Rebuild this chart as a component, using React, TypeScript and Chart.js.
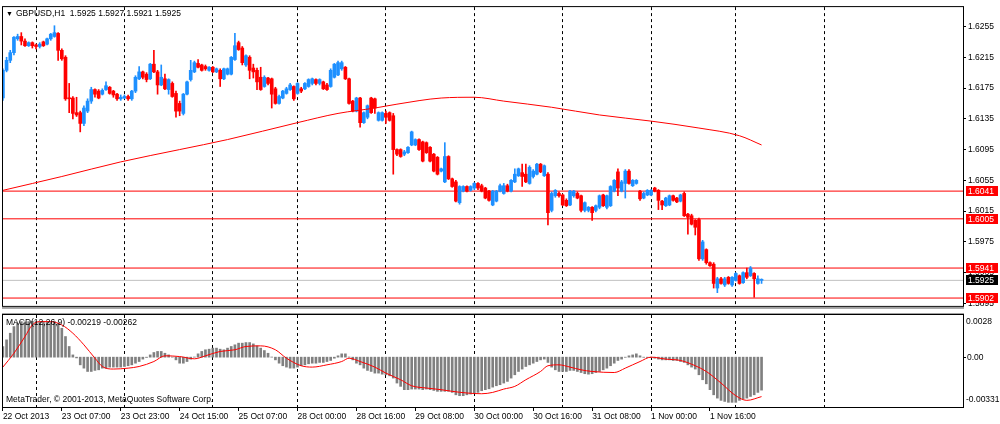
import { useEffect, useRef } from "react";
import { Chart, registerables } from "chart.js";
Chart.register(...registerables);

const FONT = "'Liberation Sans', Arial, sans-serif";
const SYMBOL = "GBPUSD,H1";
const MACD_NAME = "MACD(12,26,9)";
const COPYRIGHT = "MetaTrader, \u00A9 2001-2013, MetaQuotes Software Corp.";

const OPEN = [
  1.6162, 1.6198, 1.6211, 1.6221, 1.6239, 1.6242, 1.6236, 1.623, 1.6234, 1.6231,
  1.6229, 1.6235, 1.6232, 1.6239, 1.6242, 1.6246, 1.6224, 1.6215, 1.6162, 1.6162,
  1.6143, 1.6143, 1.6129, 1.6145, 1.6158, 1.6173, 1.6171, 1.6167, 1.6173, 1.6176,
  1.6171, 1.6167, 1.6161, 1.6162, 1.6164, 1.6161, 1.6171, 1.6187, 1.6196, 1.6193,
  1.6187, 1.6206, 1.6196, 1.6179, 1.6187, 1.6173, 1.6181, 1.6168, 1.6155, 1.6142,
  1.6167, 1.6186, 1.6196, 1.6207, 1.6205, 1.6203, 1.6198, 1.6202, 1.6196, 1.6198,
  1.6187, 1.6193, 1.6193, 1.6212, 1.6234, 1.6227, 1.6205, 1.6215, 1.6201, 1.6198,
  1.6189, 1.6177, 1.6188, 1.6187, 1.6174, 1.6155, 1.6162, 1.6168, 1.6173, 1.6177,
  1.6168, 1.6174, 1.6174, 1.6177, 1.6181, 1.6186, 1.6181, 1.6183, 1.6179, 1.6177,
  1.6189, 1.6192, 1.62, 1.6202, 1.6187, 1.6158, 1.6145, 1.6162, 1.613, 1.6137,
  1.6162, 1.6161, 1.6133, 1.6133, 1.6142, 1.6143, 1.6139, 1.6095, 1.6095, 1.6089,
  1.6091, 1.6101, 1.6101, 1.6108, 1.6105, 1.6104, 1.6098, 1.6089, 1.6085, 1.6067,
  1.6053, 1.6086, 1.6057, 1.6053, 1.6026, 1.6041, 1.6047, 1.6042, 1.6045, 1.6051,
  1.6048, 1.6045, 1.6041, 1.6023, 1.6028, 1.6041, 1.6038, 1.6048, 1.6041, 1.6053,
  1.6061, 1.6065, 1.6063, 1.6051, 1.606, 1.6063, 1.6076, 1.6061, 1.6063, 1.6016,
  1.6035, 1.6038, 1.6036, 1.6029, 1.6023, 1.6035, 1.6038, 1.6035, 1.6016, 1.6016,
  1.602, 1.6016, 1.602, 1.6036, 1.602, 1.6022, 1.6041, 1.6066, 1.6041, 1.6051,
  1.6067, 1.6048, 1.6051, 1.6041, 1.6032, 1.6036, 1.6036, 1.6045, 1.6042, 1.6028,
  1.6022, 1.6023, 1.6035, 1.6032, 1.6028, 1.6038, 1.6011, 1.6009, 1.6003, 1.6004,
  1.5953, 1.5965, 1.5948, 1.5946, 1.5915, 1.5927, 1.5919, 1.5929, 1.5919, 1.5925,
  1.5931, 1.5922, 1.5935, 1.5931, 1.5934, 1.5921, 1.5925,
];
const HIGH = [
  1.62, 1.6215, 1.6224, 1.6242, 1.6245, 1.6247, 1.6239, 1.6235, 1.6235, 1.6232,
  1.6234, 1.6236, 1.624, 1.6246, 1.6256, 1.6247, 1.6226, 1.6217, 1.6181, 1.6164,
  1.6163, 1.6145, 1.6152, 1.6161, 1.6176, 1.6174, 1.6173, 1.6174, 1.6183, 1.6177,
  1.6172, 1.6168, 1.6166, 1.6166, 1.6166, 1.6172, 1.6191, 1.6203, 1.6197, 1.6195,
  1.6207, 1.6224, 1.6198, 1.6205, 1.6193, 1.6187, 1.6183, 1.6171, 1.6158, 1.6168,
  1.6184, 1.6211, 1.621, 1.6212, 1.6206, 1.6205, 1.6203, 1.6203, 1.6201, 1.62,
  1.6201, 1.6201, 1.6216, 1.6246, 1.6236, 1.6229, 1.6218, 1.6217, 1.6206, 1.6201,
  1.6202, 1.6191, 1.6189, 1.6188, 1.6176, 1.6166, 1.6172, 1.6176, 1.6181, 1.6178,
  1.6182, 1.6176, 1.6182, 1.6187, 1.6188, 1.6187, 1.6187, 1.6184, 1.6181, 1.62,
  1.6207, 1.621, 1.621, 1.6203, 1.6188, 1.6159, 1.6163, 1.6163, 1.6144, 1.6153,
  1.6163, 1.6162, 1.6144, 1.6144, 1.6145, 1.6144, 1.6142, 1.6096, 1.6096, 1.6094,
  1.6099, 1.6119, 1.6109, 1.6109, 1.6106, 1.6105, 1.6099, 1.609, 1.6086, 1.6071,
  1.6104, 1.6087, 1.6058, 1.6055, 1.6048, 1.6048, 1.6048, 1.6048, 1.6052, 1.6052,
  1.605, 1.6046, 1.6042, 1.6042, 1.6042, 1.605, 1.6051, 1.605, 1.6056, 1.607,
  1.6071, 1.6076, 1.6076, 1.6074, 1.6069, 1.6077, 1.6077, 1.6075, 1.6065, 1.604,
  1.6043, 1.604, 1.6037, 1.6031, 1.6042, 1.6042, 1.604, 1.6036, 1.6027, 1.6021,
  1.6021, 1.6023, 1.6036, 1.6037, 1.6036, 1.6048, 1.6056, 1.607, 1.6055, 1.6069,
  1.6069, 1.6056, 1.6056, 1.6042, 1.604, 1.6043, 1.6043, 1.6046, 1.6043, 1.6029,
  1.6033, 1.6036, 1.6036, 1.6033, 1.6037, 1.604, 1.6012, 1.6011, 1.6004, 1.6006,
  1.5977, 1.5966, 1.5949, 1.5948, 1.5929, 1.5929, 1.5929, 1.593, 1.593, 1.5935,
  1.5932, 1.5936, 1.5941, 1.5943, 1.5935, 1.5931, 1.5927,
];
const LOW = [
  1.6159, 1.6196, 1.6208, 1.6218, 1.6237, 1.6231, 1.6229, 1.6229, 1.6227, 1.6226,
  1.6227, 1.6229, 1.6231, 1.6237, 1.6241, 1.6211, 1.6211, 1.6159, 1.6143, 1.6135,
  1.6138, 1.6118, 1.6126, 1.6143, 1.6155, 1.6163, 1.6161, 1.6166, 1.6172, 1.6167,
  1.6163, 1.6159, 1.6159, 1.6161, 1.6159, 1.6159, 1.6169, 1.6186, 1.6187, 1.6183,
  1.6186, 1.6195, 1.6167, 1.6178, 1.6173, 1.6167, 1.6163, 1.6137, 1.6139, 1.614,
  1.6166, 1.6184, 1.6195, 1.6201, 1.6197, 1.6198, 1.6197, 1.6195, 1.6195, 1.6177,
  1.6186, 1.6192, 1.6192, 1.6211, 1.6224, 1.6205, 1.6203, 1.6187, 1.6188, 1.6173,
  1.6172, 1.6176, 1.6179, 1.6149, 1.6154, 1.6154, 1.6161, 1.6167, 1.6172, 1.6159,
  1.6167, 1.6169, 1.6173, 1.6176, 1.6179, 1.6179, 1.6179, 1.6173, 1.6172, 1.6176,
  1.6188, 1.6191, 1.6198, 1.6186, 1.6154, 1.6144, 1.6144, 1.6124, 1.6129, 1.6135,
  1.6142, 1.6142, 1.6132, 1.6132, 1.6129, 1.6132, 1.6063, 1.6087, 1.6085, 1.6087,
  1.609, 1.61, 1.61, 1.6094, 1.6079, 1.609, 1.6079, 1.6066, 1.6062, 1.6066,
  1.6052, 1.6056, 1.6046, 1.6027, 1.6024, 1.604, 1.604, 1.6041, 1.6043, 1.6043,
  1.604, 1.6031, 1.6028, 1.6022, 1.6027, 1.604, 1.6037, 1.604, 1.604, 1.6052,
  1.606, 1.6047, 1.6052, 1.605, 1.6058, 1.6062, 1.6065, 1.606, 1.5997, 1.6014,
  1.6033, 1.6033, 1.6022, 1.6021, 1.6022, 1.6033, 1.6031, 1.6014, 1.6014, 1.6014,
  1.6003, 1.6014, 1.6018, 1.6021, 1.6018, 1.6021, 1.604, 1.6035, 1.604, 1.6032,
  1.605, 1.6047, 1.605, 1.6029, 1.6031, 1.6035, 1.6035, 1.604, 1.6017, 1.6017,
  1.6021, 1.6022, 1.6028, 1.6026, 1.6027, 1.6008, 1.5985, 1.5997, 1.5984, 1.5951,
  1.5951, 1.5946, 1.5943, 1.5915, 1.5909, 1.592, 1.5917, 1.592, 1.5917, 1.5924,
  1.592, 1.5921, 1.5927, 1.593, 1.5903, 1.592, 1.5921,
];
const CLOSE = [
  1.6198, 1.6211, 1.6221, 1.6241, 1.6242, 1.6236, 1.623, 1.6234, 1.623, 1.6229,
  1.6232, 1.623, 1.6239, 1.6245, 1.6247, 1.6224, 1.6213, 1.6161, 1.6161, 1.6142,
  1.614, 1.6129, 1.6149, 1.6158, 1.6173, 1.6167, 1.6162, 1.6172, 1.6178, 1.6168,
  1.6166, 1.6161, 1.6163, 1.6164, 1.6161, 1.6171, 1.6189, 1.6196, 1.6189, 1.6186,
  1.6206, 1.6196, 1.6179, 1.6189, 1.6174, 1.6186, 1.6164, 1.6145, 1.6145, 1.6167,
  1.6183, 1.6198, 1.6208, 1.6202, 1.6198, 1.62, 1.6202, 1.6196, 1.62, 1.6187,
  1.62, 1.62, 1.6215, 1.623, 1.6225, 1.6208, 1.6217, 1.6198, 1.6196, 1.6183,
  1.6173, 1.6189, 1.6181, 1.6167, 1.6155, 1.6164, 1.6171, 1.6174, 1.6179, 1.6161,
  1.6181, 1.6171, 1.6181, 1.6186, 1.6187, 1.6181, 1.6186, 1.6174, 1.6173, 1.6198,
  1.6206, 1.6208, 1.6208, 1.6187, 1.6155, 1.6145, 1.6162, 1.613, 1.6143, 1.6152,
  1.6143, 1.6149, 1.6143, 1.6143, 1.6137, 1.6133, 1.6095, 1.6089, 1.6086, 1.6092,
  1.6098, 1.6118, 1.6108, 1.6095, 1.608, 1.6091, 1.608, 1.6067, 1.6063, 1.607,
  1.6086, 1.6057, 1.6047, 1.6028, 1.6047, 1.6047, 1.6041, 1.6047, 1.6051, 1.6045,
  1.6041, 1.6032, 1.6029, 1.6041, 1.6041, 1.6048, 1.6048, 1.6041, 1.6055, 1.6063,
  1.607, 1.606, 1.6053, 1.6072, 1.6067, 1.6076, 1.6066, 1.6074, 1.6013, 1.6038,
  1.6042, 1.6035, 1.6023, 1.6022, 1.6041, 1.6041, 1.6032, 1.6016, 1.6026, 1.602,
  1.6013, 1.6022, 1.6035, 1.6022, 1.6035, 1.6047, 1.6055, 1.6045, 1.6053, 1.6067,
  1.6051, 1.6055, 1.6055, 1.6031, 1.6038, 1.6042, 1.6042, 1.6041, 1.6029, 1.6023,
  1.6032, 1.6035, 1.6029, 1.6027, 1.6036, 1.6009, 1.6007, 1.5998, 1.5994, 1.5953,
  1.5975, 1.5948, 1.5944, 1.5921, 1.5927, 1.5921, 1.5927, 1.5921, 1.5929, 1.5934,
  1.5921, 1.5935, 1.5929, 1.5941, 1.5927, 1.5927, 1.5925,
];

const MA_IDX = [0, 16, 32, 48, 61, 80, 91, 101, 107, 119, 128, 136, 149, 162, 176, 189, 200, 206];
const MA_VAL = [1.6042, 1.606, 1.6079, 1.6095, 1.6108, 1.613, 1.6142, 1.6149, 1.6154, 1.6162, 1.6163, 1.6158, 1.615, 1.614, 1.6132, 1.6123, 1.6113, 1.6101];

const LEVELS = [1.6041, 1.6005, 1.5941, 1.5902];
const BID = 1.5925;
const PRICE_TICKS = [1.6255, 1.6215, 1.6175, 1.6135, 1.6095, 1.6055, 1.6015, 1.5975, 1.5935, 1.5895];

const MACD_MAIN = [
  0.00071, 0.00115, 0.00159, 0.00203, 0.00225, 0.00236, 0.00234, 0.00236, 0.00238, 0.00236,
  0.00235, 0.00236, 0.00234, 0.0023, 0.00236, 0.00225, 0.00192, 0.00137, 0.00071, 0.00015,
  -0.00005, -0.00051, -0.00073, -0.00095, -0.00095, -0.00088, -0.00084, -0.00073, -0.00073, -0.00066,
  -0.00066, -0.00066, -0.00066, -0.00062, -0.00057, -0.00051, -0.0004, -0.00029, -0.00013, -0.00002,
  0.00015, 0.00031, 0.00038, 0.00038, 0.00026, 0.00015, 0.00001, -0.00018, -0.0004, -0.0004,
  -0.00029, -0.00013, 0.00001, 0.00022, 0.00038, 0.00049, 0.00053, 0.0006, 0.0006, 0.00053,
  0.00049, 0.0006, 0.00071, 0.00082, 0.00093, 0.00093, 0.00097, 0.00097, 0.00088, 0.00075,
  0.0006, 0.00044, 0.00026, 0.00001, -0.00018, -0.0004, -0.00057, -0.00066, -0.00073, -0.00073,
  -0.00066, -0.00057, -0.00051, -0.00044, -0.0004, -0.0004, -0.00035, -0.00035, -0.00029, -0.00022,
  -0.00007, 0.00009, 0.00022, 0.00022, 0.00001, -0.00018, -0.0004, -0.00051, -0.00073, -0.00088,
  -0.00095, -0.00106, -0.00106, -0.00113, -0.00117, -0.00124, -0.00139, -0.00172, -0.00194, -0.00216,
  -0.00216, -0.00212, -0.00212, -0.00212, -0.00216, -0.00212, -0.00216, -0.00221, -0.00227, -0.00227,
  -0.00227, -0.00227, -0.00234, -0.0025, -0.00256, -0.00256, -0.0025, -0.00245, -0.00238, -0.00234,
  -0.00223, -0.00216, -0.0021, -0.00199, -0.0019, -0.00183, -0.00172, -0.00161, -0.00139, -0.00117,
  -0.00095, -0.00079, -0.00062, -0.00051, -0.0004, -0.00029, -0.00018, -0.00013, -0.00035, -0.00066,
  -0.00084, -0.00095, -0.00095, -0.00095, -0.00088, -0.00088, -0.00095, -0.00102, -0.0011, -0.00113,
  -0.0011, -0.00102, -0.00095, -0.00084, -0.00073, -0.00057, -0.0004, -0.00022, -0.00013, -0.00001,
  0.00009, 0.00015, 0.00022, 0.00009, -0.00001, -0.00002, -0.00003, -0.00007, -0.00013, -0.00018,
  -0.00018, -0.00018, -0.00022, -0.00022, -0.00029, -0.00035, -0.00051, -0.00066, -0.00079, -0.00117,
  -0.0015, -0.00177, -0.00216, -0.0025, -0.00272, -0.00287, -0.00294, -0.003, -0.003, -0.003,
  -0.00287, -0.00278, -0.00272, -0.00261, -0.0025, -0.00234, -0.00219,
];
const SIGNAL_IDX = [0, 3, 6, 8, 10, 13, 16, 19, 22, 25, 27, 30, 34, 37, 41, 44, 48, 52, 55, 59, 63, 66, 70, 74, 77, 81, 84, 88, 92, 94, 97, 101, 104, 108, 111, 115, 119, 122, 126, 130, 133, 136, 139, 142, 146, 148, 151, 154, 157, 160, 166, 169, 173, 176, 180, 184, 188, 191, 195, 199, 202, 206];
const SIGNAL_VAL = [-0.00066, 0.00026, 0.00137, 0.00214, 0.00236, 0.00236, 0.00214, 0.00159, 0.00082, -0.00007, -0.00062, -0.00079, -0.00073, -0.00062, -0.00029, 0.00009, 0.00004, -0.00011, 0.00009, 0.00038, 0.00049, 0.00071, 0.00075, 0.00049, -0.00007, -0.00057, -0.00066, -0.00051, -0.00029, -0.00007, -0.00029, -0.00066, -0.00106, -0.0015, -0.0019, -0.00205, -0.00216, -0.00227, -0.00238, -0.00243, -0.00234, -0.00212, -0.00194, -0.0015, -0.00095, -0.00057, -0.00051, -0.00066, -0.00084, -0.00095, -0.00102, -0.00073, -0.00029, 0.0, -0.00013, -0.00022, -0.00057, -0.00095, -0.00172, -0.00256, -0.00287, -0.00262];
const MACD_MAX = 0.0028;
const MACD_MIN = -0.00331;
const MACD_TICK_LABELS = ["0.0028", "0.00", "-0.00331"];

const X_TICKS = [0, 16, 32, 48, 64, 80, 96, 112, 128, 144, 160, 176, 192];
const X_LABELS = [
  "22 Oct 2013", "23 Oct 07:00", "23 Oct 23:00", "24 Oct 15:00", "25 Oct 07:00",
  "28 Oct 00:00", "28 Oct 16:00", "29 Oct 08:00", "30 Oct 00:00", "30 Oct 16:00",
  "31 Oct 08:00", "1 Nov 00:00", "1 Nov 16:00",
];
const SEPARATORS = [9, 33, 57, 80, 104, 128, 152, 176, 199, 223];

const X_MIN = 0.03;
const X_MAX = 260.7;
const Y_MIN = 1.58918;
const Y_MAX = 1.62802;

const BULL = "#1E90FF";
const BEAR = "#FF0000";
const FS = 8.5;

const idx = OPEN.map((_, i) => i);
const candleColors = OPEN.map((o, i) => (CLOSE[i] >= o ? BULL : BEAR));

const sepAxis = (): any => ({
  type: "linear",
  min: X_MIN,
  max: X_MAX,
  offset: false,
  position: "bottom",
  afterBuildTicks: (a: any) => {
    a.ticks = SEPARATORS.map((v) => ({ value: v }));
  },
  afterFit: (s: any) => {
    s.height = 0;
  },
  ticks: { display: false },
  grid: { color: "#000000", lineWidth: 1, drawTicks: false, offset: false },
  border: { display: false, dash: [3, 3] },
});

const frame = (ctx: any, a: any) => {
  ctx.strokeStyle = "#000000";
  ctx.lineWidth = 1;
  ctx.strokeRect(a.left - 0.5, a.top - 0.5, a.right - a.left + 1, a.bottom - a.top + 1);
};

const mainDecor = {
  id: "mainDecor",
  afterDraw(chart: any) {
    const { ctx, chartArea: a, scales } = chart;
    const ys = scales.y;
    ctx.save();
    frame(ctx, a);
    ctx.fillStyle = "#A0A0A0";
    ctx.fillRect(a.left - 1, a.bottom + 1, a.right - a.left + 2, 2);
    ctx.textBaseline = "middle";
    ctx.textAlign = "left";
    ctx.fillStyle = "#000000";
    const n = OPEN.length - 1;
    const head = `${SYMBOL}  ${OPEN[n].toFixed(4)} ${HIGH[n].toFixed(4)} ${LOW[n].toFixed(4)} ${CLOSE[n].toFixed(4)}`;
    ctx.font = `7px ${FONT}`;
    ctx.fillText("\u25BC", a.left + 3, a.top + 7);
    ctx.font = `${FS}px ${FONT}`;
    ctx.fillText(head, a.left + 13, a.top + 7);
    const box = (v: number, bg: string) => {
      const y = Math.round(ys.getPixelForValue(v));
      ctx.fillStyle = bg;
      ctx.fillRect(a.right + 3, y - 5, 32, 10);
      ctx.fillStyle = "#FFFFFF";
      ctx.fillText(v.toFixed(4), a.right + 5, y + 0.5);
    };
    LEVELS.forEach((v) => box(v, "#FF0000"));
    box(BID, "#000000");
    ctx.restore();
  },
};

const macdDecor = {
  id: "macdDecor",
  afterDraw(chart: any) {
    const { ctx, chartArea: a, scales } = chart;
    const ys = scales.y;
    ctx.save();
    ctx.fillStyle = "#A0A0A0";
    ctx.fillRect(a.left - 1, 0, a.right - a.left + 2, 1);
    frame(ctx, a);
    ctx.font = `${FS}px ${FONT}`;
    ctx.textBaseline = "middle";
    ctx.textAlign = "left";
    ctx.fillStyle = "#000000";
    const n = MACD_MAIN.length - 1;
    ctx.fillText(
      `${MACD_NAME} ${MACD_MAIN[n].toFixed(5)} ${SIGNAL_VAL[SIGNAL_VAL.length - 1].toFixed(5)}`,
      a.left + 3,
      a.top + 8
    );
    ctx.fillText(COPYRIGHT, a.left + 3, a.bottom - 7);
    const yTop = ys.getPixelForValue(MACD_MAX) + 7;
    const yZero = ys.getPixelForValue(0);
    const yBot = ys.getPixelForValue(MACD_MIN) - 7;
    ctx.fillText(MACD_TICK_LABELS[0], a.right + 3, yTop);
    ctx.fillText(MACD_TICK_LABELS[1], a.right + 4, yZero);
    ctx.fillText(MACD_TICK_LABELS[2], a.right + 3, yBot);
    ctx.strokeStyle = "#000000";
    ctx.beginPath();
    ctx.moveTo(a.right, Math.round(yZero) + 0.5);
    ctx.lineTo(a.right + 3, Math.round(yZero) + 0.5);
    ctx.stroke();
    ctx.restore();
  },
};

function mainConfig(): any {
  const levelSets = LEVELS.map((v) => ({
    type: "line",
    data: [
      { x: X_MIN, y: v },
      { x: X_MAX, y: v },
    ],
    borderColor: "#FF0000",
    borderWidth: 1,
    pointRadius: 0,
    order: 6,
  }));
  return {
    type: "bar",
    data: {
      datasets: [
        ...levelSets,
        {
          type: "line",
          data: [
            { x: X_MIN, y: BID },
            { x: X_MAX, y: BID },
          ],
          borderColor: "#C0C0C0",
          borderWidth: 1,
          pointRadius: 0,
          order: 7,
        },
        {
          type: "bar",
          data: idx.map((i) => ({ x: i, y: [LOW[i], HIGH[i]] })),
          backgroundColor: candleColors,
          barThickness: 1,
          grouped: false,
          order: 4,
        },
        {
          type: "bar",
          data: idx.map((i) => ({ x: i, y: [OPEN[i], CLOSE[i]] })),
          backgroundColor: candleColors,
          barThickness: 3,
          minBarLength: 1,
          grouped: false,
          order: 3,
        },
        {
          type: "line",
          data: MA_IDX.map((x, k) => ({ x, y: MA_VAL[k] })),
          borderColor: "#FF0000",
          borderWidth: 1,
          pointRadius: 0,
          cubicInterpolationMode: "monotone",
          order: 2,
        },
      ],
    },
    options: {
      responsive: false,
      animation: false,
      devicePixelRatio: 1,
      layout: { padding: { left: 3, top: 3, right: 0, bottom: 2 } },
      plugins: { legend: { display: false }, tooltip: { enabled: false }, title: { display: false } },
      events: [],
      scales: {
        x: sepAxis(),
        y: {
          type: "linear",
          position: "right",
          min: Y_MIN,
          max: Y_MAX,
          beginAtZero: false,
          afterBuildTicks: (a: any) => {
            a.ticks = PRICE_TICKS.map((v) => ({ value: v }));
          },
          afterFit: (s: any) => {
            s.width = 37;
          },
          ticks: {
            callback: (v: any) => Number(v).toFixed(4),
            font: { family: FONT, size: FS },
            color: "#000000",
            padding: 2,
            autoSkip: false,
          },
          grid: { drawOnChartArea: false, drawTicks: true, tickLength: 3, color: "#000000" },
          border: { display: true, color: "#000000" },
        },
      },
    },
    plugins: [mainDecor],
  };
}

function macdConfig(): any {
  return {
    type: "bar",
    data: {
      datasets: [
        {
          type: "bar",
          data: idx.map((i) => ({ x: i, y: MACD_MAIN[i] })),
          backgroundColor: "#808080",
          barThickness: 2,
          grouped: false,
          order: 3,
        },
        {
          type: "line",
          data: SIGNAL_IDX.map((x, k) => ({ x, y: SIGNAL_VAL[k] })),
          borderColor: "#FF0000",
          borderWidth: 1,
          pointRadius: 0,
          cubicInterpolationMode: "monotone",
          order: 2,
        },
      ],
    },
    options: {
      responsive: false,
      animation: false,
      devicePixelRatio: 1,
      layout: { padding: { left: 3, top: 2, right: 0, bottom: 0 } },
      plugins: { legend: { display: false }, tooltip: { enabled: false }, title: { display: false } },
      events: [],
      scales: {
        x: {
          type: "linear",
          position: "bottom",
          min: X_MIN,
          max: X_MAX,
          offset: false,
          afterBuildTicks: (a: any) => {
            a.ticks = X_TICKS.map((v) => ({ value: v }));
          },
          afterFit: (s: any) => {
            s.height = 17;
          },
          ticks: {
            callback: (_v: any, i: number) => X_LABELS[i],
            align: "start",
            font: { family: FONT, size: FS },
            color: "#000000",
            padding: 1,
            maxRotation: 0,
            autoSkip: false,
          },
          grid: { drawOnChartArea: false, drawTicks: true, tickLength: 4, color: "#000000", offset: false },
          border: { display: true, color: "#000000" },
        },
        xs: sepAxis(),
        y: {
          type: "linear",
          position: "right",
          min: MACD_MIN,
          max: MACD_MAX,
          beginAtZero: false,
          afterFit: (s: any) => {
            s.width = 37;
          },
          ticks: { display: false },
          grid: { display: false },
          border: { display: true, color: "#000000" },
        },
      },
    },
    plugins: [macdDecor],
  };
}

export default function App() {
  const mainRef = useRef<HTMLCanvasElement>(null);
  const macdRef = useRef<HTMLCanvasElement>(null);
  useEffect(() => {
    const c1 = new Chart(mainRef.current as HTMLCanvasElement, mainConfig());
    const c2 = new Chart(macdRef.current as HTMLCanvasElement, macdConfig());
    return () => {
      c1.destroy();
      c2.destroy();
    };
  }, []);
  return (
    <div style={{ position: "fixed", left: 0, top: 0, width: 1000, height: 424, background: "#FFFFFF" }}>
      <canvas
        ref={mainRef}
        width={1000}
        height={313}
        style={{ position: "absolute", left: 0, top: 0, width: 1000, height: 313 }}
      />
      <canvas
        ref={macdRef}
        width={1000}
        height={111}
        style={{ position: "absolute", left: 0, top: 313, width: 1000, height: 111 }}
      />
    </div>
  );
}
